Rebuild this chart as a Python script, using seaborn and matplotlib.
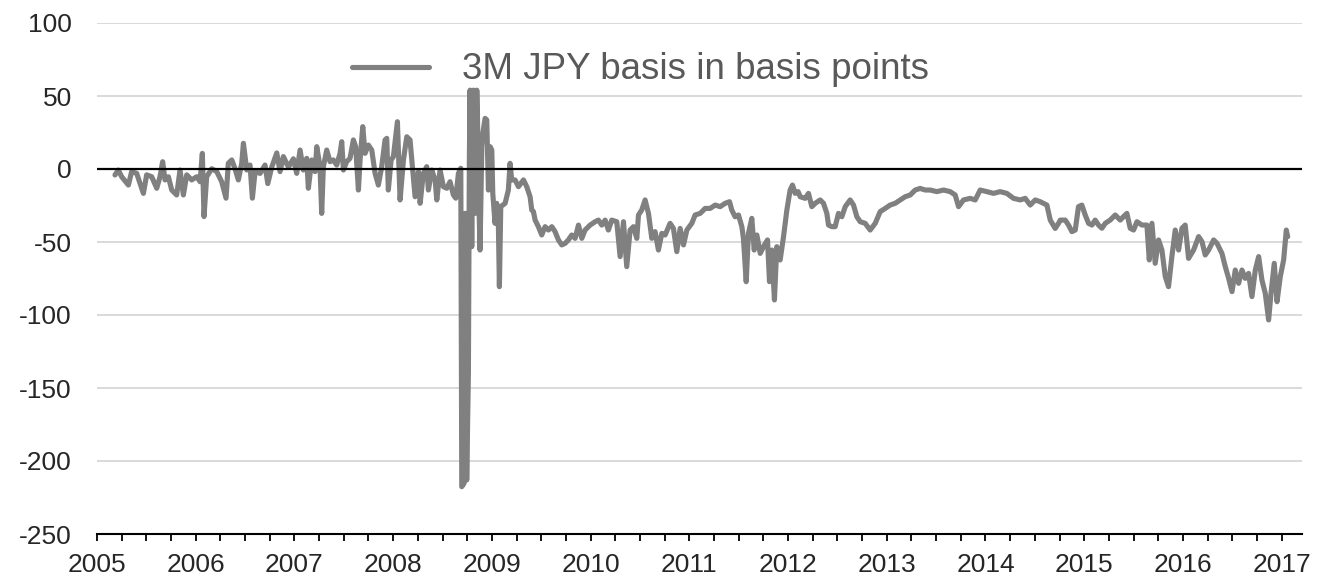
import pandas as pd
import matplotlib.pyplot as plt
import seaborn as sns
from matplotlib.ticker import MultipleLocator

# Fecha (anio decimal) y base JPY 3M en puntos basicos
years = [
    2005.182, 2005.216, 2005.250, 2005.318, 2005.351, 2005.402, 2005.470, 2005.503, 2005.554, 2005.605,
    2005.638, 2005.665, 2005.689, 2005.723, 2005.757, 2005.807, 2005.841, 2005.875, 2005.909, 2005.959,
    2006.010, 2006.044, 2006.067, 2006.084, 2006.111, 2006.162, 2006.213, 2006.263, 2006.307, 2006.330,
    2006.365, 2006.398, 2006.432, 2006.466, 2006.483, 2006.517, 2006.550, 2006.574, 2006.601, 2006.652,
    2006.702, 2006.730, 2006.770, 2006.821, 2006.854, 2006.888, 2006.939, 2006.989,
    2007.023, 2007.057, 2007.090, 2007.124, 2007.141, 2007.175, 2007.209, 2007.226, 2007.259, 2007.276,
    2007.293, 2007.327, 2007.361, 2007.394, 2007.428, 2007.462, 2007.479, 2007.496, 2007.529, 2007.563,
    2007.597, 2007.620, 2007.648, 2007.665, 2007.692, 2007.715, 2007.749, 2007.783, 2007.817, 2007.850,
    2007.884, 2007.918, 2007.935, 2007.951, 2007.979, 2008.002, 2008.043, 2008.070, 2008.104, 2008.138,
    2008.171, 2008.195, 2008.222, 2008.256, 2008.273, 2008.306, 2008.340, 2008.357, 2008.391, 2008.425,
    2008.442, 2008.475, 2008.509, 2008.543, 2008.576, 2008.610, 2008.634, 2008.661,
    2008.685, 2008.695, 2008.718, 2008.728, 2008.745, 2008.762, 2008.772, 2008.779, 2008.796, 2008.813,
    2008.830, 2008.847, 2008.853, 2008.863, 2008.880, 2008.898, 2008.908, 2008.931, 2008.948, 2008.965,
    2008.982, 2008.999, 2009.009, 2009.032, 2009.049, 2009.066, 2009.076, 2009.090, 2009.134, 2009.167,
    2009.184, 2009.201, 2009.235, 2009.269, 2009.320, 2009.353,
    2009.387, 2009.404, 2009.421, 2009.438, 2009.471, 2009.505, 2009.539, 2009.573, 2009.607, 2009.640,
    2009.674, 2009.708, 2009.742, 2009.775, 2009.809, 2009.843, 2009.877, 2009.911, 2009.944, 2009.995,
    2010.046, 2010.079, 2010.113, 2010.147, 2010.180, 2010.214, 2010.265, 2010.299, 2010.333, 2010.366,
    2010.400, 2010.434, 2010.468, 2010.485, 2010.518, 2010.552, 2010.586, 2010.620, 2010.653, 2010.687,
    2010.721, 2010.755, 2010.805, 2010.839, 2010.873, 2010.907, 2010.941, 2010.975, 2011.025, 2011.059,
    2011.110, 2011.160, 2011.211, 2011.262, 2011.312, 2011.363, 2011.407, 2011.430, 2011.464, 2011.498,
    2011.532, 2011.548, 2011.576, 2011.599, 2011.633, 2011.657, 2011.684, 2011.718, 2011.751, 2011.792,
    2011.812, 2011.836, 2011.862, 2011.886, 2011.920, 2011.954, 2011.988, 2012.021, 2012.045, 2012.072,
    2012.102,
    2012.123, 2012.173, 2012.207, 2012.241, 2012.275, 2012.325, 2012.359, 2012.393, 2012.410, 2012.443,
    2012.477, 2012.511, 2012.545, 2012.579, 2012.629, 2012.663, 2012.697, 2012.731, 2012.781, 2012.832,
    2012.883, 2012.933, 2012.984, 2013.034, 2013.085, 2013.136, 2013.186, 2013.237, 2013.288, 2013.338,
    2013.389, 2013.440, 2013.507, 2013.575, 2013.642, 2013.693, 2013.727, 2013.777, 2013.845, 2013.896,
    2013.946, 2014.014, 2014.081, 2014.149, 2014.216, 2014.284, 2014.352, 2014.402, 2014.453, 2014.504,
    2014.554, 2014.622, 2014.656, 2014.706, 2014.740,
    2014.757, 2014.808, 2014.841, 2014.875, 2014.909, 2014.942, 2014.976, 2015.010, 2015.044, 2015.078,
    2015.111, 2015.145, 2015.179, 2015.213, 2015.263, 2015.314, 2015.365, 2015.398, 2015.432, 2015.466,
    2015.500, 2015.534, 2015.585, 2015.635, 2015.659, 2015.686, 2015.719, 2015.753, 2015.787, 2015.821,
    2015.854, 2015.888, 2015.922, 2015.956, 2015.990, 2016.023, 2016.057, 2016.108, 2016.159, 2016.193,
    2016.226, 2016.260, 2016.311, 2016.345, 2016.395, 2016.429, 2016.463, 2016.497, 2016.530, 2016.564,
    2016.598, 2016.631, 2016.665, 2016.699, 2016.733, 2016.767, 2016.800, 2016.834, 2016.868, 2016.892,
    2016.925, 2016.953, 2016.986, 2017.020, 2017.047, 2017.061,
]
basis = [
    -4.1, -0.7, -5.3, -11, -1.8, -3, -16.7, -4, -5.3, -13.2,
    -5.3, 5, -7.5, -5.3, -14.4, -17.8, -0.7, -17.8, -4, -7.5,
    -5.3, -8.7, 10.7, -32.6, -5.3, 0.2, -1.8, -8.7, -20, 3.9,
    6.2, 0.2, -7.5, 3.9, 17.6, -0.7, 2.7, -20, -1.8, -3,
    2.7, -10, 1.3, 11, -1.8, 8.5, 1.3, 7,
    -3, 13, -0.7, 7.3, -13.2, 6.2, -1.8, 15.3, 1.6, -30.4,
    1.6, 13, 5, 6.2, 2.7, 10.7, 18.7, -0.7, 5, 7.3,
    19.9, 15.3, -14.4, 6.2, 29, 10.7, 16.4, 13, -3, -11,
    1.6, 19.9, 21, -14.4, 6.2, 8.4, 32.4, -21.2, 6.2, 22.1,
    19.9, 1.6, -19, -1.8, -23.5, -3, 1.6, -14.4, -0.7, -7.5,
    -21.2, -0.7, -12.1, -13.2, -8.7, -17.8, -20, -3,
    0.5, -217.6, -215.3, -30.4, -213, -140, 8.4, 54, -53.2, 54,
    -30.4, 54, 40.4, -7.5, -55.5, 15.3, 24.4, 34.7, 33.6, -14.4,
    15.3, 13, -16.7, -37.2, -23.5, -39.5, -80.6, -25.8, -23.5, -14.4,
    3.9, -7.5, -7.5, -12.1, -7.5, -12.1,
    -19, -28.1, -29.2, -35, -39.5, -45.2, -39.5, -41.8, -39.5, -42.9,
    -48.6, -52, -50.9, -48.6, -45.2, -47.5, -38.4, -47.5, -41.8, -38.4,
    -36.1, -35, -38.4, -35, -41.8, -35, -36.1, -60, -36.1, -66.9,
    -41.8, -39.5, -47.5, -31.5, -28.1, -21.2, -30.4, -47.5, -42.9, -55.5,
    -44.1, -45.2, -37.2, -40.7, -56.6, -40.7, -52, -41.8, -37.2, -31.5,
    -30.4, -27, -27, -24.7, -25.8, -23.5, -22.4, -28.1, -32.7, -31.5,
    -39.5, -47.5, -77.2, -44.1, -33.8, -55.5, -45.2, -57.8, -53.2, -48.6,
    -77.2, -55.5, -89.7, -53.2, -62.3, -46.4, -28.1, -14.4, -11, -16.7,
    -15.5,
    -19, -20.1, -16.7, -25.8, -23.5, -21.2, -23.5, -30.4, -38.4, -39.5,
    -39.5, -30.4, -32.7, -25.8, -21.2, -24.7, -32.7, -36.1, -37.2, -41.8,
    -37.2, -29.2, -27, -24.7, -23.5, -21.2, -19, -17.8, -14.4, -13.3,
    -14.4, -14.4, -15.5, -14.4, -15.5, -17.8, -25.8, -21.2, -20.1, -21.2,
    -14.4, -15.5, -16.7, -15.5, -16.7, -20.1, -21.2, -20.1, -24.7, -21.2,
    -22.4, -24.7, -35, -40.7, -37.2,
    -35, -35, -38.4, -42.9, -41.8, -25.8, -24.7, -31.5, -37.2, -38.4,
    -35, -38.4, -40.6, -37.2, -35, -31.5, -35, -32.6, -30.4, -40.6,
    -41.8, -36.1, -38.4, -38.4, -62.3, -37.2, -64.6, -48.6, -55.5, -73.7,
    -80.6, -60, -41.8, -55.5, -40.6, -38.4, -61.2, -55.5, -46.3, -49.8,
    -58.9, -55.5, -48.6, -50.9, -57.8, -66.9, -74.9, -84, -69.2, -78.3,
    -69.2, -74.9, -71.5, -87.4, -69.2, -60, -76, -85.2, -103.4, -85.2,
    -64.6, -90.9, -73.7, -62.3, -41.8, -46.3,
]
legend_label = '3M JPY basis in basis points'
year_ticks = list(range(2005, 2018))
y_ticks = list(range(-250, 101, 50))

sns.set_style('white')
plt.rcParams['font.family'] = ['Liberation Sans', 'DejaVu Sans']
plt.rcParams['axes.unicode_minus'] = False

df = pd.DataFrame({'year': years, 'basis': basis})

fig = plt.figure(figsize=(13.24, 5.81), dpi=100)
ax = fig.add_axes([97 / 1324, 47 / 581, 1205 / 1324, 511 / 581])

sns.lineplot(data=df, x='year', y='basis', estimator=None, sort=False, color='#808080',
             linewidth=3.7, label=legend_label, ax=ax,
             solid_joinstyle='round', solid_capstyle='round', zorder=3)

# linea del cero en negro por encima de la serie
ax.axhline(0, color='black', linewidth=1.6, zorder=4)

ax.set_xlim(2005, 2017.206)
ax.set_ylim(-250, 100)
ax.set_xticks(year_ticks)
ax.set_xticklabels([str(y) for y in year_ticks])
ax.xaxis.set_minor_locator(MultipleLocator(0.25))
ax.set_yticks(y_ticks)
ax.set_xlabel('')
ax.set_ylabel('')

ax.grid(axis='y', color='#d9d9d9', linewidth=1.4)
ax.set_axisbelow(True)
for s in ['left', 'right', 'top']:
    ax.spines[s].set_visible(False)
ax.spines['bottom'].set_color('black')
ax.spines['bottom'].set_linewidth(1.5)

ax.tick_params(axis='x', which='both', direction='out', length=5, width=1.3,
               color='black', bottom=True, labelsize=19, pad=9)
ax.tick_params(axis='y', length=0, labelsize=19, pad=18)

ax.legend(loc='center left', bbox_to_anchor=(352 / 1324, 1 - 70 / 581),
          bbox_transform=fig.transFigure, frameon=False, fontsize=26.5,
          handlelength=2.1, handletextpad=0.9, borderpad=0, borderaxespad=0,
          labelcolor='#595959')

fig.savefig('out.png', dpi=100)
